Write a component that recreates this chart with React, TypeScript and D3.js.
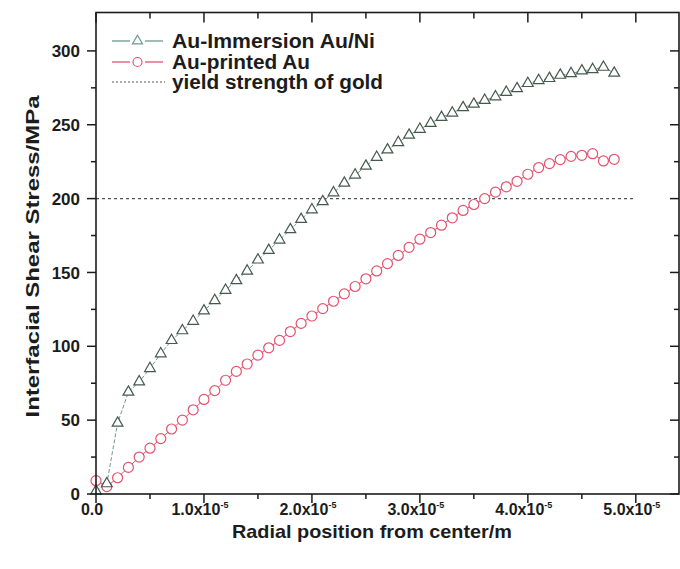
import React from 'react';
import * as d3 from 'd3';

// radial position in micrometres (x1e-6 m)
const radialMicro = [
  0, 1, 2, 3, 4, 5, 6, 7, 8, 9, 10, 11, 12, 13, 14, 15, 16, 17, 18, 19, 20, 21, 22, 23, 24,
  25, 26, 27, 28, 29, 30, 31, 32, 33, 34, 35, 36, 37, 38, 39, 40, 41, 42, 43, 44, 45, 46, 47, 48,
];

// Au-Immersion Au/Ni, MPa
const immersionStress = [
  2, 7, 48, 69, 76, 85, 95, 104, 110.6, 117, 124, 131, 138, 144.5, 151, 158.5, 165, 172, 179, 186,
  192.5, 198, 204, 210.5, 216, 222, 228, 233, 238, 243, 247, 251, 255, 258, 261.6, 264, 266.6, 269,
  272, 274.5, 278, 280, 281.4, 283.6, 284.7, 286.5, 287.4, 289, 285,
];

// Au-printed Au, MPa
const printedStress = [
  9, 5, 11, 18, 25, 31, 37.5, 44, 50, 57, 64, 70, 77, 83, 88, 94, 99, 104, 110, 115.5, 120.5,
  125.5, 130.5, 135.5, 140.5, 145.7, 151, 156, 161.5, 167, 172.5, 177, 182, 187, 192, 196, 200,
  204.4, 208, 211.7, 216.5, 221, 223.7, 226.4, 228.6, 229.3, 230.4, 225.5, 226.6,
];

const yieldStrength = 200;
const yieldSpan = [0, 5e-5];

const yTicks = [0, 50, 100, 150, 200, 250, 300];
const yMinorTicks = [25, 75, 125, 175, 225, 275];
const xTicks = [0, 1e-5, 2e-5, 3e-5, 4e-5, 5e-5];
const xMinorTicks = [0.5e-5, 1.5e-5, 2.5e-5, 3.5e-5, 4.5e-5];
const xTickMantissa = ['0.0', '1.0', '2.0', '3.0', '4.0', '5.0'];

const legendLabels = ['Au-Immersion Au/Ni', 'Au-printed Au', 'yield strength of gold'];

const FONT = '"Liberation Sans", Arial, sans-serif';
const INK = '#1c1c1c';
const TRI = '#46594f';
const TRI_LINE = '#6f9a8a';
const RED = '#e5526f';

const App = () => {
  const x = d3.scaleLinear().domain([0, 5.4e-5]).range([96, 679]);
  const y = d3.scaleLinear().domain([0, 326]).range([494, 12.5]);

  const immersion = radialMicro.map((r, i) => [r * 1e-6, immersionStress[i]] as [number, number]);
  const printed = radialMicro.map((r, i) => [r * 1e-6, printedStress[i]] as [number, number]);

  const line = d3.line<[number, number]>().x(d => x(d[0])).y(d => y(d[1]));
  const tri = d3.symbol().type(d3.symbolTriangle).size(50)()!;
  const triSmall = d3.symbol().type(d3.symbolTriangle).size(44)()!;

  const [x0, x1] = x.range();
  const [yb, yt] = y.range();

  return (
    <svg width={680} height={569} style={{ position: 'absolute', left: 0, top: 0, background: '#fff' }}
      fontFamily={FONT}>
      <rect width={680} height={569} fill="#fff" />

      {/* yield strength line */}
      <line x1={x(yieldSpan[0])} x2={x(yieldSpan[1])} y1={y(yieldStrength)} y2={y(yieldStrength)}
        stroke="#555" strokeWidth={1.3} strokeDasharray="3,3" />

      {/* series lines */}
      <path d={line(immersion)!} fill="none" stroke={TRI_LINE} strokeWidth={1} strokeDasharray="4,2" />
      <path d={line(printed)!} fill="none" stroke={RED} strokeWidth={1} />

      {/* markers */}
      {printed.map((d, i) => (
        <circle key={'c' + i} cx={x(d[0])} cy={y(d[1])} r={5} fill="#fff" stroke={RED} strokeWidth={1.2} />
      ))}
      {immersion.map((d, i) => (
        <path key={'t' + i} d={tri} transform={`translate(${x(d[0])},${y(d[1])})`}
          fill="#fff" stroke={TRI} strokeWidth={1.2} />
      ))}

      {/* frame */}
      <rect x={x0} y={yt} width={x1 - x0} height={yb - yt} fill="none" stroke={INK} strokeWidth={1.6} />

      {/* bottom / top axis ticks + labels */}
      {xTicks.map((t, i) => (
        <g key={'xt' + i}>
          <line x1={x(t)} x2={x(t)} y1={yb} y2={yb + 9} stroke={INK} strokeWidth={1.5} />
          <line x1={x(t)} x2={x(t)} y1={yt} y2={yt + 10} stroke={INK} strokeWidth={1.5} />
          <text x={x(t) - 4} y={515} textAnchor="middle" fontSize={16} fontWeight="bold" fill={INK}>
            {i === 0 ? xTickMantissa[i] : (
              <>
                {xTickMantissa[i]}x10<tspan fontSize={9} dy={-7}>-5</tspan>
              </>
            )}
          </text>
        </g>
      ))}
      {xMinorTicks.map((t, i) => (
        <g key={'xm' + i}>
          <line x1={x(t)} x2={x(t)} y1={yb} y2={yb + 5} stroke={INK} strokeWidth={1.5} />
          <line x1={x(t)} x2={x(t)} y1={yt} y2={yt + 6} stroke={INK} strokeWidth={1.5} />
        </g>
      ))}

      {/* left / right axis ticks + labels */}
      {yTicks.map((t, i) => (
        <g key={'yt' + i}>
          <line x1={x0 - 9} x2={x0} y1={y(t)} y2={y(t)} stroke={INK} strokeWidth={1.5} />
          <line x1={x1 - 9} x2={x1} y1={y(t)} y2={y(t)} stroke={INK} strokeWidth={1.5} />
          <text x={80} y={y(t)} dy="0.36em" textAnchor="end" fontSize={17} fontWeight="bold" fill={INK}>
            {t}
          </text>
        </g>
      ))}
      {yMinorTicks.map((t, i) => (
        <g key={'ym' + i}>
          <line x1={x0 - 5} x2={x0} y1={y(t)} y2={y(t)} stroke={INK} strokeWidth={1.5} />
          <line x1={x1 - 5} x2={x1} y1={y(t)} y2={y(t)} stroke={INK} strokeWidth={1.5} />
        </g>
      ))}

      {/* axis titles */}
      <text x={372} y={538} textAnchor="middle" fontSize={19} fontWeight="bold" fill={INK}
        textLength={280} lengthAdjust="spacingAndGlyphs">
        Radial position from center/m
      </text>
      <text transform="translate(39,256.5) rotate(-90)" textAnchor="middle" fontSize={18} fontWeight="bold"
        fill={INK} textLength={322} lengthAdjust="spacingAndGlyphs">
        Interfacial Shear Stress/MPa
      </text>

      {/* legend */}
      <g>
        <line x1={112} x2={130} y1={41} y2={41} stroke={TRI_LINE} strokeWidth={1.3} />
        <line x1={145} x2={163} y1={41} y2={41} stroke={TRI_LINE} strokeWidth={1.3} />
        <path d={triSmall} transform="translate(137.5,41)" fill="#fff" stroke={TRI_LINE} strokeWidth={1.2} />
        <text x={172} y={48} fontSize={19.5} fontWeight="bold" fill={INK} textLength={203}
          lengthAdjust="spacingAndGlyphs">{legendLabels[0]}</text>

        <line x1={112} x2={130} y1={62} y2={62} stroke={RED} strokeWidth={1.3} />
        <line x1={145} x2={163} y1={62} y2={62} stroke={RED} strokeWidth={1.3} />
        <circle cx={137.5} cy={62} r={4.5} fill="#fff" stroke={RED} strokeWidth={1.2} />
        <text x={172} y={68.5} fontSize={19.5} fontWeight="bold" fill={INK} textLength={138}
          lengthAdjust="spacingAndGlyphs">{legendLabels[1]}</text>

        <line x1={112} x2={165} y1={82} y2={82} stroke="#555" strokeWidth={1.2} strokeDasharray="2,2" />
        <text x={172} y={89} fontSize={19.5} fontWeight="bold" fill={INK} textLength={211}
          lengthAdjust="spacingAndGlyphs">{legendLabels[2]}</text>
      </g>
    </svg>
  );
};

export default App;
